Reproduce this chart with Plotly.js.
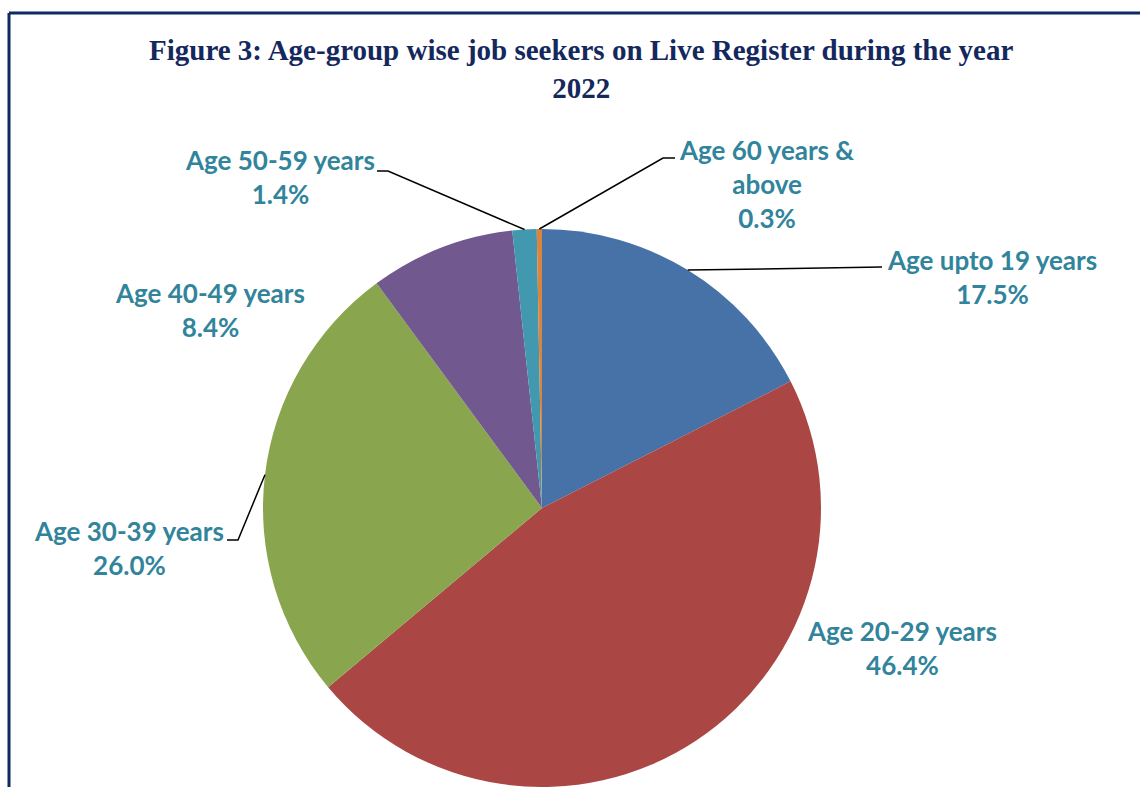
<!DOCTYPE html>
<html>
<head>
<meta charset="utf-8">
<script src="https://cdn.plot.ly/plotly-3.0.1.min.js"></script>
<style>
  html, body { margin: 0; padding: 0; background: #ffffff; overflow: hidden; }
  #chart { width: 1140px; height: 787px; }
</style>
</head>
<body>
<div id="chart"></div>
<script>
// ---- data ----
const categories = ["Age upto 19 years", "Age 20-29 years", "Age 30-39 years", "Age 40-49 years", "Age 50-59 years", "Age 60 years & above"];
const labelTexts = ["Age upto 19 years", "Age 20-29 years", "Age 30-39 years", "Age 40-49 years", "Age 50-59 years", "Age 60 years &amp;<br>above"];
const shares = [17.5, 46.4, 26.0, 8.4, 1.4, 0.3];
const sliceColors = ["#4672A8", "#AA4643", "#89A54E", "#71588F", "#4198AF", "#DB843D"];
const titleLines = ["Figure 3: Age-group wise job seekers on Live Register during the year", "2022"];

// ---- layout (pixel positions of label centres and leader-line elbows) ----
const W = 1140, H = 787;
const labelPos = [
  {x: 992, y: 277},
  {x: 902, y: 648},
  {x: 129, y: 548},
  {x: 210, y: 310},
  {x: 280, y: 177},
  {x: 766, y: 184}
];
// leader line: [elbow, end] or null
const leaders = [
  [[882, 267], [882, 267]],
  null,
  [[238, 540], [227, 540]],
  null,
  [[388, 171], [377, 171]],
  [[663, 158], [675, 158]]
];

const px = v => v / W;
const py = v => 1 - v / H;
const fmt = v => v.toFixed(1) + "%";

const labelAnnotations = categories.map((c, i) => ({
  xref: "paper", yref: "paper",
  x: px(labelPos[i].x), y: py(labelPos[i].y),
  xanchor: "center", yanchor: "middle",
  text: "<b>" + labelTexts[i] + "<br>" + fmt(shares[i]) + "</b>",
  showarrow: false,
  align: "center",
  font: {family: "Lato, 'Open Sans', sans-serif", size: 26, color: "#31849B"}
}));

const titleAnnotation = {
  xref: "paper", yref: "paper",
  x: px(581), y: py(69),
  xanchor: "center", yanchor: "middle",
  text: "<b>" + titleLines.join("<br>") + "</b>",
  showarrow: false, align: "center",
  font: {family: "'Liberation Serif', 'Times New Roman', serif", size: 29, color: "#14285E"}
};

const borderColor = "#0F2A63";
const borderShapes = [
  {type: "line", xref: "paper", yref: "paper", x0: px(9), x1: 1, y0: py(13), y1: py(13),
   line: {color: borderColor, width: 3}, layer: "above"},
  {type: "line", xref: "paper", yref: "paper", x0: px(9), x1: px(9), y0: py(13), y1: 0,
   line: {color: borderColor, width: 3}, layer: "above"}
];

const data = [{
  type: "pie",
  labels: categories,
  values: shares,
  sort: false,
  direction: "clockwise",
  rotation: 0,
  textinfo: "none",
  hoverinfo: "label+percent",
  marker: {colors: sliceColors, line: {color: "#ffffff", width: 0}},
  domain: {x: [262 / W, 822 / W], y: [0, 1 - 229 / H]},
  showlegend: false
}];

const layout = {
  width: W, height: H,
  margin: {l: 0, r: 0, t: 0, b: 0},
  paper_bgcolor: "#ffffff",
  showlegend: false,
  annotations: [titleAnnotation].concat(labelAnnotations),
  shapes: borderShapes
};

const gd = document.getElementById("chart");
Plotly.newPlot(gd, data, layout, {displayModeBar: false, staticPlot: true}).then(() => {
  const cd = gd.calcdata[0];
  const cx = cd[0].cx, cy = cd[0].cy;
  const shapes = borderShapes.slice();
  cd.forEach((pt, i) => {
    const L = leaders[pt.i !== undefined ? pt.i : i];
    if (!L) return;
    const sx = cx + pt.pxmid[0], sy = cy + pt.pxmid[1];
    const path = "M" + px(sx) + "," + py(sy) +
                 " L" + px(L[0][0]) + "," + py(L[0][1]) +
                 " L" + px(L[1][0]) + "," + py(L[1][1]);
    shapes.push({
      type: "path", xref: "paper", yref: "paper", path: path,
      line: {color: "#000000", width: 1.5}
    });
  });
  return Plotly.relayout(gd, {shapes: shapes});
});
</script>
</body>
</html>
